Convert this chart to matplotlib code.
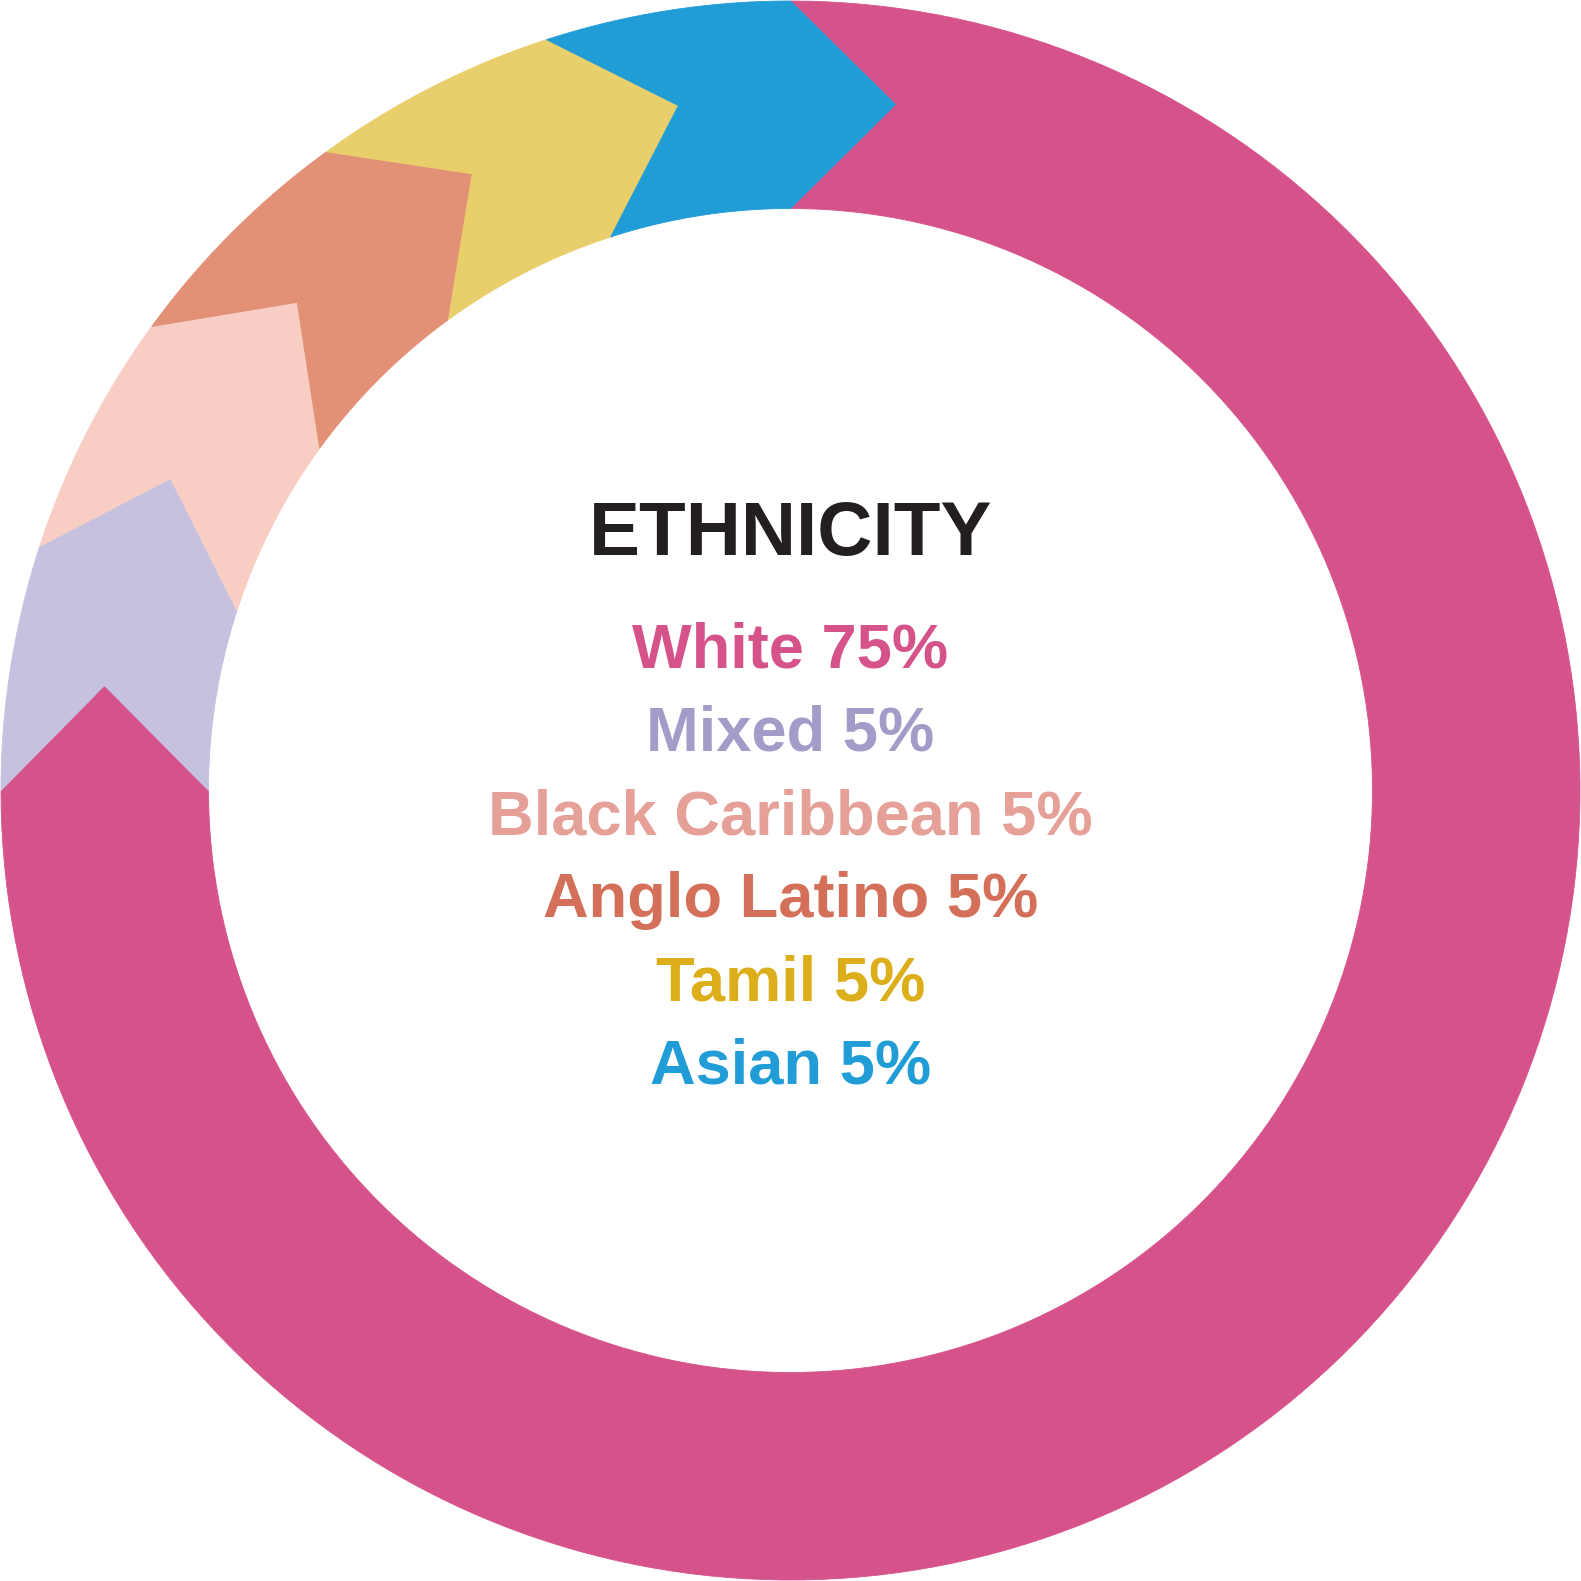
import numpy as np
import matplotlib.pyplot as plt
from matplotlib.patches import Polygon

# data
labels = ['White', 'Mixed', 'Black Caribbean', 'Anglo Latino', 'Tamil', 'Asian']
values = [75, 5, 5, 5, 5, 5]
seg_colors = ['#D6528B', '#C6C1DF', '#F8CDC4', '#E39176', '#E8CF6B', '#209CD7']
text_colors = ['#D6528B', '#A19DC8', '#E5A097', '#D4705A', '#DCAE1A', '#209CD7']
title = 'ETHNICITY'

SIZE = 1581
cx, cy = 790.5, 790.5
r_out = 789.5
r_in = 582.0
r_tip = 694.0
tip_off = 8.7  # degrees, chevron point offset (clockwise)


def pt(r, ang):
    """ang in degrees clockwise from 12 o'clock, y axis pointing down"""
    a = np.radians(ang)
    return (cx + r * np.sin(a), cy - r * np.cos(a))


def segment(a0, a1):
    outer = [pt(r_out, a) for a in np.linspace(a0, a1, 200)]
    inner = [pt(r_in, a) for a in np.linspace(a1, a0, 200)]
    return outer + [pt(r_tip, a1 + tip_off)] + inner + [pt(r_tip, a0 + tip_off)]


fig = plt.figure(figsize=(15.81, 15.81), dpi=100)
ax = fig.add_axes([0, 0, 1, 1])
ax.set_xlim(0, SIZE)
ax.set_ylim(SIZE, 0)
ax.set_aspect('equal')
ax.axis('off')

total = sum(values)
start = 0.0
for v, c in zip(values, seg_colors):
    end = start + 360.0 * v / total
    ax.add_patch(Polygon(segment(start, end), closed=True, facecolor=c,
                         edgecolor=c, linewidth=0.6, joinstyle='miter'))
    start = end

ax.text(cx, 554.5, title, ha='center', va='baseline', fontsize=55,
        fontweight='bold', color='#231F20', family='Liberation Sans')

y0, dy = 667.5, 83.3
for i, (lab, v, c) in enumerate(zip(labels, values, text_colors)):
    ax.text(cx, y0 + i * dy, f'{lab} {v}%', ha='center', va='baseline',
            fontsize=45.5, fontweight='bold', color=c, family='Liberation Sans')

fig.savefig('out.png', dpi=100, facecolor='white')
